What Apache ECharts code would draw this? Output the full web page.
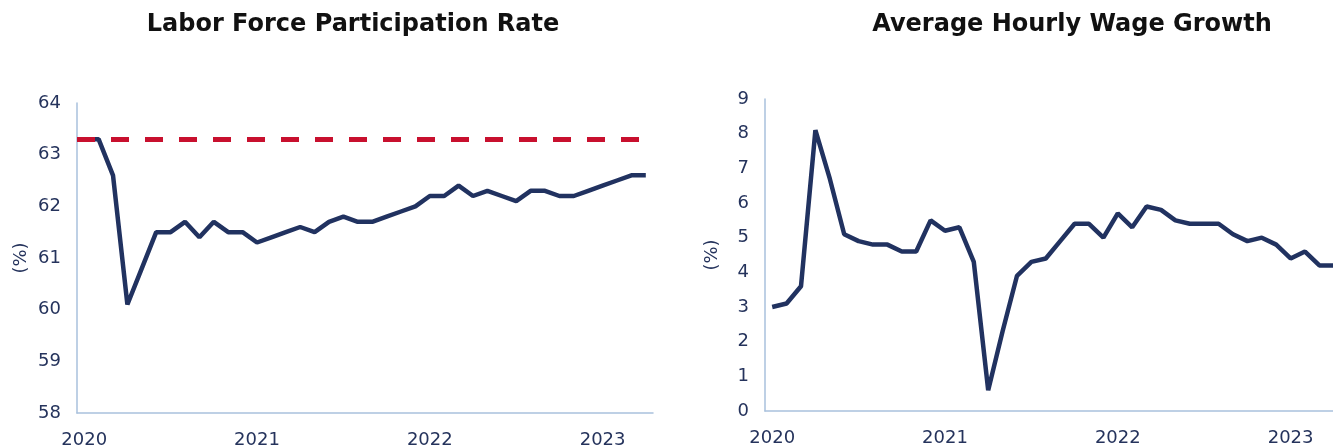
<!DOCTYPE html>
<html>
<head>
<meta charset="utf-8">
<script src="https://cdn.jsdelivr.net/npm/echarts@6/dist/echarts.min.js"></script>
<style>
  html, body { margin: 0; padding: 0; background: #fff; }
  #main { width: 1333px; height: 445px; }
</style>
</head>
<body>
<div id="main"></div>
<script>
// monthly, Jan 2020 - Apr 2023
const months = [
  '2020-01','2020-02','2020-03','2020-04','2020-05','2020-06','2020-07','2020-08','2020-09','2020-10','2020-11','2020-12',
  '2021-01','2021-02','2021-03','2021-04','2021-05','2021-06','2021-07','2021-08','2021-09','2021-10','2021-11','2021-12',
  '2022-01','2022-02','2022-03','2022-04','2022-05','2022-06','2022-07','2022-08','2022-09','2022-10','2022-11','2022-12',
  '2023-01','2023-02','2023-03','2023-04'
];

const participation = [
  63.3, 63.3, 62.6, 60.1, 60.8, 61.5, 61.5, 61.7, 61.4, 61.7, 61.5, 61.5,
  61.3, 61.4, 61.5, 61.6, 61.5, 61.7, 61.8, 61.7, 61.7, 61.8, 61.9, 62.0,
  62.2, 62.2, 62.4, 62.2, 62.3, 62.2, 62.1, 62.3, 62.3, 62.2, 62.2, 62.3,
  62.4, 62.5, 62.6, 62.6
];
const prePandemicLevel = 63.3;

const wageGrowth = [
  3.0, 3.1, 3.6, 8.1, 6.7, 5.1, 4.9, 4.8, 4.8, 4.6, 4.6, 5.5,
  5.2, 5.3, 4.3, 0.6, 2.3, 3.9, 4.3, 4.4, 4.9, 5.4, 5.4, 5.0,
  5.7, 5.3, 5.9, 5.8, 5.5, 5.4, 5.4, 5.4, 5.1, 4.9, 5.0, 4.8,
  4.4, 4.6, 4.2, 4.2
];

const navy = '#213260';
const textColor = '#25335c';
const axisColor = '#a9c1dd';
const font = 'DejaVu Sans';

const chart = echarts.init(document.getElementById('main'));

function isJanuary(i) {
  return months[i].slice(5) === '01';
}

function xAxisFor(gridIndex) {
  return {
    type: 'category',
    gridIndex: gridIndex,
    data: months,
    boundaryGap: true,
    axisLine: { lineStyle: { color: axisColor, width: 1.5 } },
    axisTick: {
      length: 5,
      lineStyle: { color: axisColor, width: 1.5 },
      interval: isJanuary
    },
    axisLabel: {
      interval: isJanuary,
      formatter: function (v) { return v.slice(0, 4); },
      color: textColor,
      fontFamily: font,
      fontSize: 18,
      margin: 18
    },
    splitLine: { show: false }
  };
}

function yAxisFor(gridIndex, min, max, gap) {
  return {
    type: 'value',
    gridIndex: gridIndex,
    min: min,
    max: max,
    interval: 1,
    name: '(%)',
    nameLocation: 'middle',
    nameGap: gap,
    nameTextStyle: { color: textColor, fontFamily: font, fontSize: 18 },
    axisLine: { show: true, lineStyle: { color: axisColor, width: 1.5 } },
    axisTick: { show: false },
    axisLabel: { color: textColor, fontFamily: font, fontSize: 18, margin: 16 },
    splitLine: { show: false }
  };
}

const option = {
  backgroundColor: '#ffffff',
  animation: false,
  title: [
    {
      text: 'Labor Force Participation Rate',
      left: 348, top: 8, textAlign: 'center',
      textStyle: { fontFamily: font, fontWeight: 'bold', fontSize: 24, color: '#111' }
    },
    {
      text: 'Average Hourly Wage Growth',
      left: 1067, top: 8, textAlign: 'center',
      textStyle: { fontFamily: font, fontWeight: 'bold', fontSize: 24, color: '#111' }
    }
  ],
  grid: [
    { left: 77, top: 103, width: 576, height: 310, outerBoundsMode: 'none' },
    { left: 765, top: 99, width: 576, height: 312, outerBoundsMode: 'none' }
  ],
  xAxis: [xAxisFor(0), xAxisFor(1)],
  yAxis: [yAxisFor(0, 58, 64, 47), yAxisFor(1, 0, 9, 44)],
  series: [
    {
      name: 'Participation rate',
      type: 'line',
      xAxisIndex: 0, yAxisIndex: 0,
      data: participation,
      symbol: 'none',
      lineStyle: { color: navy, width: 4.5 },
      z: 2,
      markLine: {
        silent: true,
        symbol: 'none',
        label: { show: false },
        lineStyle: { color: '#c8102e', width: 5, type: [18, 16] },
        data: [{ yAxis: prePandemicLevel }],
        z: 5
      }
    },
    {
      name: 'Wage growth',
      type: 'line',
      xAxisIndex: 1, yAxisIndex: 1,
      data: wageGrowth,
      symbol: 'none',
      lineStyle: { color: navy, width: 4.5 }
    }
  ]
};

chart.setOption(option);
</script>
</body>
</html>
